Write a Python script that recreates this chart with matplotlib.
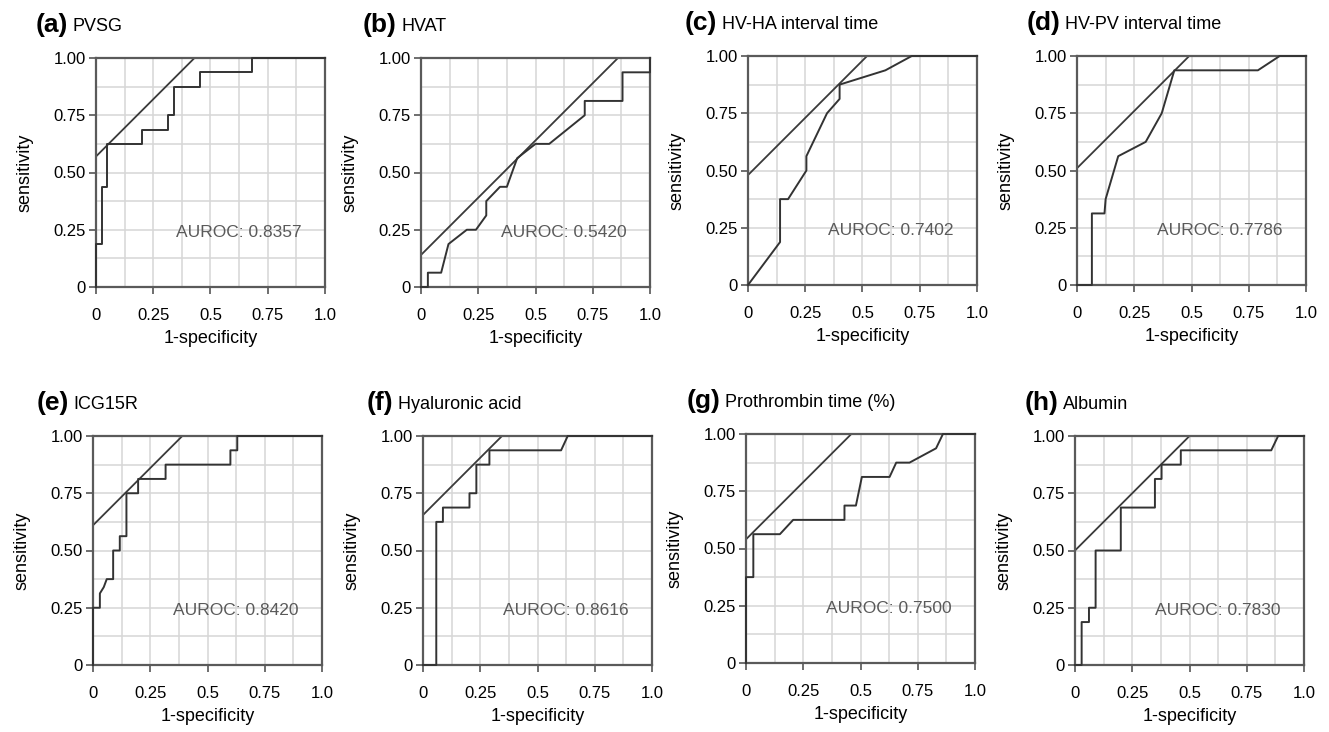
import matplotlib.pyplot as plt
from matplotlib.ticker import MultipleLocator

plt.rcParams['font.family'] = ['Liberation Sans', 'DejaVu Sans']

# panel letters, marker names and AUROC values
letters = ['(a)', '(b)', '(c)', '(d)', '(e)', '(f)', '(g)', '(h)']
names = ['PVSG', 'HVAT', 'HV-HA interval time', 'HV-PV interval time',
         'ICG15R', 'Hyaluronic acid', 'Prothrombin time (%)', 'Albumin']
auroc = ['0.8357', '0.5420', '0.7402', '0.7786', '0.8420', '0.8616', '0.7500', '0.7830']

# intercept of the 45-degree tangent line (sensitivity = 1-specificity + c)
intercepts = [0.57, 0.14, 0.48, 0.51, 0.61, 0.655, 0.54, 0.50]

# ROC curves: 1-specificity / sensitivity vertices
fpr_a = [0, 0, 0.025, 0.025, 0.05, 0.05, 0.20, 0.20, 0.315, 0.315, 0.34, 0.34, 0.455, 0.455, 0.68, 0.68, 1.0]
tpr_a = [0, 0.1875, 0.1875, 0.4375, 0.4375, 0.625, 0.625, 0.6875, 0.6875, 0.75, 0.75, 0.875, 0.875, 0.9375, 0.9375, 1.0, 1.0]

fpr_b = [0, 0.03, 0.03, 0.088, 0.12, 0.20, 0.24, 0.285, 0.285, 0.345, 0.375, 0.42, 0.50, 0.56, 0.715, 0.715, 0.88, 0.88, 1.0, 1.0]
tpr_b = [0, 0, 0.0625, 0.0625, 0.1875, 0.25, 0.25, 0.3125, 0.375, 0.4375, 0.4375, 0.5625, 0.625, 0.625, 0.75, 0.8125, 0.8125, 0.9375, 0.9375, 1.0]

fpr_c = [0, 0.14, 0.14, 0.175, 0.255, 0.255, 0.345, 0.40, 0.40, 0.60, 0.715, 1.0]
tpr_c = [0, 0.1875, 0.375, 0.375, 0.5, 0.5625, 0.75, 0.8125, 0.875, 0.9375, 1.0, 1.0]

fpr_d = [0, 0.065, 0.065, 0.12, 0.125, 0.18, 0.30, 0.37, 0.425, 0.79, 0.885, 1.0]
tpr_d = [0, 0, 0.3125, 0.3125, 0.375, 0.5625, 0.625, 0.75, 0.9375, 0.9375, 1.0, 1.0]

fpr_e = [0, 0, 0.03, 0.03, 0.047, 0.06, 0.088, 0.088, 0.117, 0.117, 0.146, 0.146, 0.197, 0.197, 0.317, 0.317, 0.60, 0.60, 0.63, 0.63, 1.0]
tpr_e = [0, 0.25, 0.25, 0.3125, 0.34, 0.375, 0.375, 0.5, 0.5, 0.5625, 0.5625, 0.75, 0.75, 0.8125, 0.8125, 0.875, 0.875, 0.9375, 0.9375, 1.0, 1.0]

fpr_f = [0, 0.058, 0.058, 0.087, 0.087, 0.203, 0.203, 0.233, 0.233, 0.29, 0.29, 0.603, 0.632, 1.0]
tpr_f = [0, 0, 0.625, 0.625, 0.6875, 0.6875, 0.75, 0.75, 0.875, 0.875, 0.9375, 0.9375, 1.0, 1.0]

fpr_g = [0, 0, 0.032, 0.032, 0.148, 0.206, 0.43, 0.43, 0.48, 0.506, 0.627, 0.656, 0.714, 0.83, 0.86, 1.0]
tpr_g = [0, 0.375, 0.375, 0.5625, 0.5625, 0.625, 0.625, 0.6875, 0.6875, 0.8125, 0.8125, 0.875, 0.875, 0.9375, 1.0, 1.0]

fpr_h = [0, 0.029, 0.029, 0.061, 0.061, 0.09, 0.09, 0.20, 0.20, 0.349, 0.349, 0.378, 0.378, 0.462, 0.462, 0.857, 0.887, 1.0]
tpr_h = [0, 0, 0.1875, 0.1875, 0.25, 0.25, 0.5, 0.5, 0.6875, 0.6875, 0.8125, 0.8125, 0.875, 0.875, 0.9375, 0.9375, 1.0, 1.0]

fprs = [fpr_a, fpr_b, fpr_c, fpr_d, fpr_e, fpr_f, fpr_g, fpr_h]
tprs = [tpr_a, tpr_b, tpr_c, tpr_d, tpr_e, tpr_f, tpr_g, tpr_h]

x_ticks = [0, 0.25, 0.5, 0.75, 1.0]
x_ticklabels = ['0', '0.25', '0.5', '0.75', '1.0']
y_ticklabels = ['0', '0.25', '0.50', '0.75', '1.00']

# layout in pixels of the 1329x732 canvas
W, H = 1329, 732
ax_left = [96, 421, 748, 1077, 93, 423, 746, 1075]
ax_top = [58, 58, 56, 56, 436, 436, 434, 436]
title_left = [36, 363, 685, 1027, 37, 367, 687, 1025]
size = 229

fig = plt.figure(figsize=(W / 100, H / 100), dpi=100)

for i in range(8):
    ax = fig.add_axes([ax_left[i] / W, (H - ax_top[i] - size) / H, size / W, size / H])
    ax.set_xlim(0, 1)
    ax.set_ylim(0, 1)

    # light grid every 1/8
    ax.xaxis.set_minor_locator(MultipleLocator(0.125))
    ax.yaxis.set_minor_locator(MultipleLocator(0.125))
    ax.grid(which='both', color='#d6d6d6', linewidth=1.1)
    ax.set_axisbelow(True)

    ax.set_xticks(x_ticks)
    ax.set_xticklabels(x_ticklabels)
    ax.set_yticks(x_ticks)
    ax.set_yticklabels(y_ticklabels)
    ax.tick_params(which='minor', length=0)
    ax.tick_params(axis='x', which='major', length=5, width=1.2, color='#555555', pad=10, labelsize=12)
    ax.tick_params(axis='y', which='major', length=5, width=1.2, color='#555555', pad=2.5, labelsize=12)
    for s in ax.spines.values():
        s.set_color('#5a5a5a')
        s.set_linewidth(1.6)

    # tangent line and ROC curve (curve drawn over the frame where it runs along it)
    ax.axline((0, intercepts[i]), slope=1, color='#3a3a3a', linewidth=1.3)
    ax.plot(fprs[i], tprs[i], color='#333333', linewidth=1.4, clip_on=False, zorder=3)

    ax.text(0.35, 0.24, f'AUROC: {auroc[i]}', fontsize=12.5, color='#5a5a5a', va='center', ha='left')

    ax.set_xlabel('1-specificity', fontsize=13)
    ax.set_ylabel('sensitivity', fontsize=13)
    ax.xaxis.set_label_coords(0.5, -0.225)
    ax.xaxis.label.set_va('center')
    ax.yaxis.set_label_coords(-0.31, 0.5)
    ax.yaxis.label.set_va('center')

    # panel title: bold letter followed by marker name
    ty = (H - ax_top[i] + 33) / H
    lab = fig.text(title_left[i] / W, ty, letters[i], fontsize=19, fontweight='bold', va='center', ha='left')
    ax.annotate(names[i], xy=(1, 0.45), xycoords=lab, xytext=(3, 0), textcoords='offset points',
                fontsize=13, va='center', ha='left')

plt.savefig('out.png', dpi=100)
